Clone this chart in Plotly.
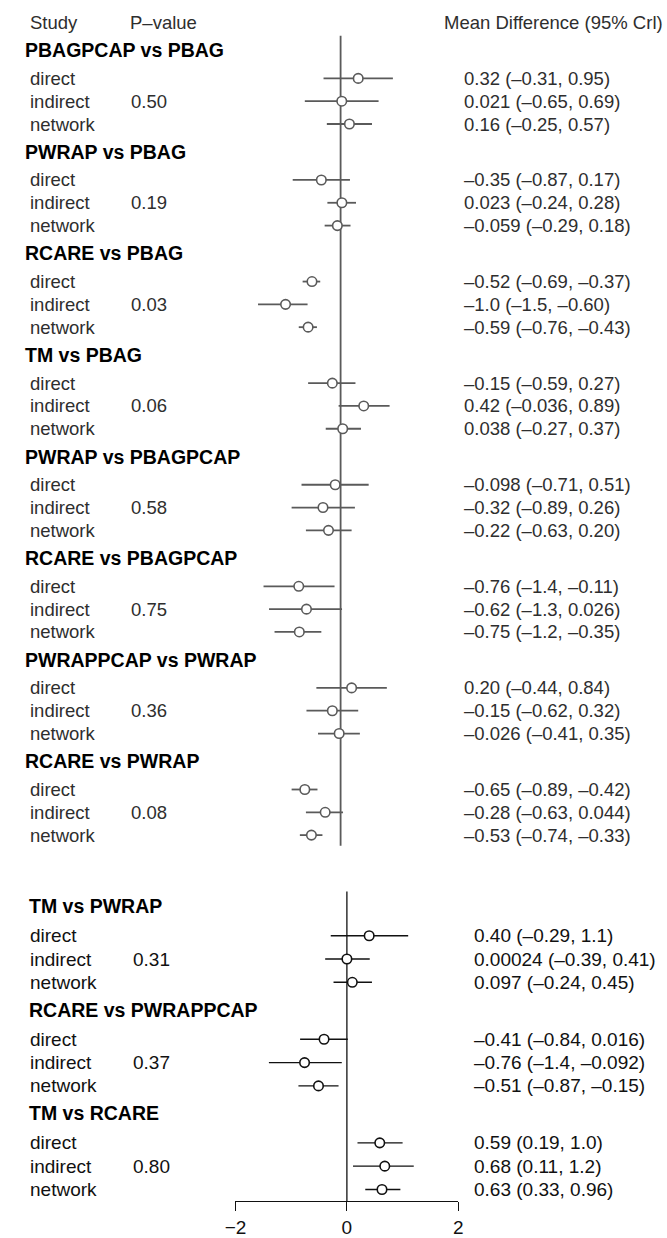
import plotly.graph_objects as go

# ---------------- data ----------------
comparisons = [
    "PBAGPCAP vs PBAG", "PWRAP vs PBAG", "RCARE vs PBAG", "TM vs PBAG",
    "PWRAP vs PBAGPCAP", "RCARE vs PBAGPCAP", "PWRAPPCAP vs PWRAP", "RCARE vs PWRAP",
    "TM vs PWRAP", "RCARE vs PWRAPPCAP", "TM vs RCARE",
]
p_values = [0.50, 0.19, 0.03, 0.06, 0.58, 0.75, 0.36, 0.08, 0.31, 0.37, 0.80]

direct_est = [0.32, -0.35, -0.52, -0.15, -0.098, -0.76, 0.20, -0.65, 0.40, -0.41, 0.59]
direct_lo = [-0.31, -0.87, -0.69, -0.59, -0.71, -1.4, -0.44, -0.89, -0.29, -0.84, 0.19]
direct_hi = [0.95, 0.17, -0.37, 0.27, 0.51, -0.11, 0.84, -0.42, 1.1, 0.016, 1.0]

indirect_est = [0.021, 0.023, -1.0, 0.42, -0.32, -0.62, -0.15, -0.28, 0.00024, -0.76, 0.68]
indirect_lo = [-0.65, -0.24, -1.5, -0.036, -0.89, -1.3, -0.62, -0.63, -0.39, -1.4, 0.11]
indirect_hi = [0.69, 0.28, -0.60, 0.89, 0.26, 0.026, 0.32, 0.044, 0.41, -0.092, 1.2]

network_est = [0.16, -0.059, -0.59, 0.038, -0.22, -0.75, -0.026, -0.53, 0.097, -0.51, 0.63]
network_lo = [-0.25, -0.29, -0.76, -0.27, -0.63, -1.2, -0.41, -0.74, -0.24, -0.87, 0.33]
network_hi = [0.57, 0.18, -0.43, 0.37, 0.20, -0.35, 0.35, -0.33, 0.45, -0.15, 0.96]

row_names = ["direct", "indirect", "network"]
n_top = 8  # comparisons in the upper panel
x_ticks = [-2, 0, 2]
x_tick_labels = ["\u22122", "0", "2"]

# ---------------- layout constants ----------------
W, H = 667, 1238
FONT = "Liberation Sans, Arial, Helvetica, sans-serif"

# upper panel geometry (pixels)
TOP_ZERO_PX, TOP_SCALE = 337.7, 56.4
TOP_FIRST_ROW, TOP_PERIOD, TOP_ROW, TOP_TITLE_OFF = 78.7, 102.0, 22.9, 28.3
TOP_LINE = (36, 849.3)
# lower panel geometry
BOT_LEFT_PX, BOT_RIGHT_PX = 230.0, 458.3
BOT_AXIS_PX = 1206.0
BOT_FIRST_ROW, BOT_PERIOD, BOT_ROW, BOT_TITLE_OFF = 939.5, 104.0, 23.4, 29.7
BOT_LINE_TOP = 895.0

TOP_GREY = "#5a5a5a"
TOP_TEXT = "#2e2e2e"


def fmt(v):
    s = format(v, "#.2g")
    if "e" in s:
        s = format(v, ".5f").rstrip("0")
    return s.replace("-", "\u2013")


def row_y(i, k):
    if i < n_top:
        return TOP_FIRST_ROW + i * TOP_PERIOD + k * TOP_ROW
    j = i - n_top
    return BOT_FIRST_ROW + j * BOT_PERIOD + k * BOT_ROW


def title_y(i):
    if i < n_top:
        return row_y(i, 0) - TOP_TITLE_OFF
    return row_y(i, 0) - BOT_TITLE_OFF


fig = go.Figure()
ests = [direct_est, indirect_est, network_est]
los = [direct_lo, indirect_lo, network_lo]
his = [direct_hi, indirect_hi, network_hi]

annotations = []


def add_text(x_px, y, text, size, color, bold=False, yref="y"):
    annotations.append(dict(
        x=x_px / W, xref="paper", y=y, yref=yref, text=f"<b>{text}</b>" if bold else text,
        showarrow=False, xanchor="left", yanchor="middle",
        font=dict(family=FONT, size=size, color=color),
    ))


for panel in ("top", "bot"):
    idx = range(0, n_top) if panel == "top" else range(n_top, len(comparisons))
    xs, ys, em, ep = [], [], [], []
    for i in idx:
        for k in range(3):
            e, lo, hi = ests[k][i], los[k][i], his[k][i]
            xs.append(e)
            ys.append(row_y(i, k))
            em.append(e - lo)
            ep.append(hi - e)
    col = TOP_GREY if panel == "top" else "#111111"
    fig.add_trace(go.Scatter(
        x=xs, y=ys, mode="markers",
        xaxis="x" if panel == "top" else "x2",
        yaxis="y" if panel == "top" else "y2",
        marker=dict(size=9.5, color="white", line=dict(color=col, width=1.6)),
        error_x=dict(type="data", array=ep, arrayminus=em, width=0,
                     thickness=1.8 if panel == "top" else 1.4, color=col),
        showlegend=False, hoverinfo="skip",
    ))

# text columns
add_text(17, 23, "Study", 18.5, TOP_TEXT)
add_text(120, 23, "P\u2013value", 18.5, TOP_TEXT)
add_text(442, 23, "Mean Difference (95% Crl)", 18.5, TOP_TEXT)

for i, name in enumerate(comparisons):
    top = i < n_top
    yref = "y" if top else "y2"
    tcol = TOP_TEXT if top else "#111111"
    size = 18.5 if top else 19
    add_text(12 if top else 16, title_y(i), name, 19.5, "#000000", bold=True, yref=yref)
    for k in range(3):
        y = row_y(i, k)
        add_text(17, y, row_names[k], size, tcol, yref=yref)
        lab = f"{fmt(ests[k][i])} ({fmt(los[k][i])}, {fmt(his[k][i])})"
        add_text(462 if top else 472, y, lab, size, tcol, yref=yref)
    add_text(121 if top else 123, row_y(i, 1), f"{p_values[i]:.2f}", size, tcol, yref=yref)

shapes = [
    dict(type="line", xref="x", yref="y", x0=0, x1=0, y0=TOP_LINE[0], y1=TOP_LINE[1],
         line=dict(color=TOP_GREY, width=1.8), layer="below"),
    dict(type="line", xref="x2", yref="y2", x0=0, x1=0, y0=BOT_LINE_TOP, y1=BOT_AXIS_PX,
         line=dict(color="#111111", width=1.3), layer="below"),
]

fig.update_layout(
    width=W, height=H, margin=dict(l=0, r=0, t=0, b=0),
    paper_bgcolor="white", plot_bgcolor="rgba(0,0,0,0)",
    xaxis=dict(domain=[0, 1], range=[-TOP_ZERO_PX / TOP_SCALE, (W - TOP_ZERO_PX) / TOP_SCALE],
               visible=False, anchor="y"),
    yaxis=dict(domain=[0, 1], range=[H, 0], visible=False, anchor="x"),
    xaxis2=dict(domain=[BOT_LEFT_PX / W, BOT_RIGHT_PX / W], range=[x_ticks[0], x_ticks[-1]],
                anchor="y2", showgrid=False, zeroline=False, showline=True,
                linecolor="#111111", linewidth=1.3, ticks="outside", ticklen=9,
                tickwidth=1.3, tickcolor="#111111", tickvals=x_ticks,
                ticktext=x_tick_labels,
                tickfont=dict(family=FONT, size=19, color="#111111")),
    yaxis2=dict(domain=[(H - BOT_AXIS_PX) / H, 1], range=[BOT_AXIS_PX, 0], visible=False,
                anchor="x2"),
    annotations=annotations, shapes=shapes,
)

fig.write_html("out.html")
